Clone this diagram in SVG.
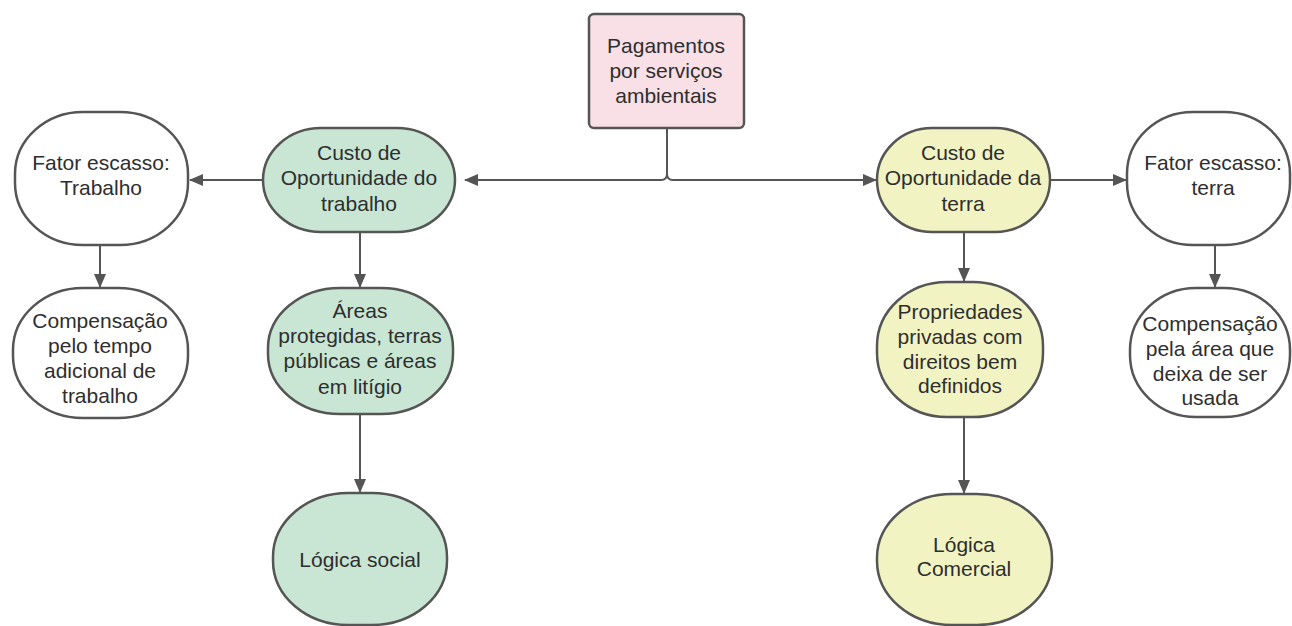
<svg xmlns="http://www.w3.org/2000/svg" width="1292" height="626" viewBox="0 0 1292 626">
<defs>
<style>
.node{stroke:#555;stroke-width:2.5}
.white{fill:#ffffff}
.green{fill:#c8e6d3}
.yellow{fill:#f2f3c2}
.pink{fill:#f9e0e7}
.t{font-family:"Liberation Sans",Arial,sans-serif;font-size:21px;fill:#2e2e2e;text-anchor:middle}
.c{fill:none;stroke:#555;stroke-width:2}
</style>
<marker id="arr" markerUnits="userSpaceOnUse" markerWidth="14" markerHeight="12" refX="13" refY="6" orient="auto">
<path d="M0,0 L14,6 L0,12 Z" fill="#555"/>
</marker>
</defs>
<rect width="1292" height="626" fill="#ffffff"/>
<g id="connectors">
<path class="c" d="M667,128 V174 Q667,180 661,180 H465" marker-end="url(#arr)"/>
<path class="c" d="M667,174 Q667,180 673,180 H876" marker-end="url(#arr)"/>
<path class="c" d="M263,180 H190" marker-end="url(#arr)"/>
<path class="c" d="M1050,180 H1126" marker-end="url(#arr)"/>
<path class="c" d="M100,245 V287" marker-end="url(#arr)"/>
<path class="c" d="M360,232 V287" marker-end="url(#arr)"/>
<path class="c" d="M360,414 V492" marker-end="url(#arr)"/>
<path class="c" d="M964,232 V281" marker-end="url(#arr)"/>
<path class="c" d="M964,417 V493" marker-end="url(#arr)"/>
<path class="c" d="M1215,245 V287" marker-end="url(#arr)"/>
</g>
<g id="pagamentos">
<rect class="node pink" x="589" y="14" width="155" height="114" rx="5"/>
<text class="t" x="666" y="53">Pagamentos</text>
<text class="t" x="666" y="78">por serviços</text>
<text class="t" x="666" y="103">ambientais</text>
</g>
<g id="custo-trabalho">
<rect class="node green" x="263" y="128" width="192" height="104" rx="58" ry="52"/>
<text class="t" x="359" y="160">Custo de</text>
<text class="t" x="359" y="185">Oportunidade do</text>
<text class="t" x="359" y="211">trabalho</text>
</g>
<g id="fator-trabalho">
<rect class="node white" x="15" y="112" width="173" height="133" rx="68" ry="62"/>
<text class="t" x="101" y="170">Fator escasso:</text>
<text class="t" x="101" y="195">Trabalho</text>
</g>
<g id="compensacao-trabalho">
<rect class="node white" x="13" y="288" width="175" height="130" rx="70" ry="62"/>
<text class="t" x="100" y="328">Compensação</text>
<text class="t" x="100" y="353">pelo tempo</text>
<text class="t" x="100" y="378">adicional de</text>
<text class="t" x="100" y="403">trabalho</text>
</g>
<g id="areas">
<rect class="node green" x="268" y="288" width="185" height="126" rx="72" ry="60"/>
<text class="t" x="360" y="318">Áreas</text>
<text class="t" x="360" y="343">protegidas, terras</text>
<text class="t" x="360" y="368">públicas e áreas</text>
<text class="t" x="360" y="394">em litígio</text>
</g>
<g id="logica-social">
<rect class="node green" x="273" y="493" width="174" height="132" rx="75" ry="64"/>
<text class="t" x="360" y="567">Lógica social</text>
</g>
<g id="custo-terra">
<rect class="node yellow" x="877" y="128" width="173" height="104" rx="55" ry="52"/>
<text class="t" x="963" y="160">Custo de</text>
<text class="t" x="963" y="185">Oportunidade da</text>
<text class="t" x="963" y="211">terra</text>
</g>
<g id="fator-terra">
<rect class="node white" x="1127" y="112" width="163" height="133" rx="66" ry="62"/>
<text class="t" x="1213" y="170">Fator escasso:</text>
<text class="t" x="1213" y="195">terra</text>
</g>
<g id="propriedades">
<rect class="node yellow" x="877" y="282" width="166" height="135" rx="70" ry="64"/>
<text class="t" x="960" y="319">Propriedades</text>
<text class="t" x="960" y="344">privadas com</text>
<text class="t" x="960" y="369">direitos bem</text>
<text class="t" x="960" y="393">definidos</text>
</g>
<g id="compensacao-terra">
<rect class="node white" x="1130" y="288" width="160" height="129" rx="66" ry="62"/>
<text class="t" x="1210" y="331">Compensação</text>
<text class="t" x="1210" y="356">pela área que</text>
<text class="t" x="1210" y="381">deixa de ser</text>
<text class="t" x="1210" y="405">usada</text>
</g>
<g id="logica-comercial">
<rect class="node yellow" x="877" y="494" width="175" height="131" rx="75" ry="64"/>
<text class="t" x="964" y="552">Lógica</text>
<text class="t" x="964" y="576">Comercial</text>
</g>
</svg>
